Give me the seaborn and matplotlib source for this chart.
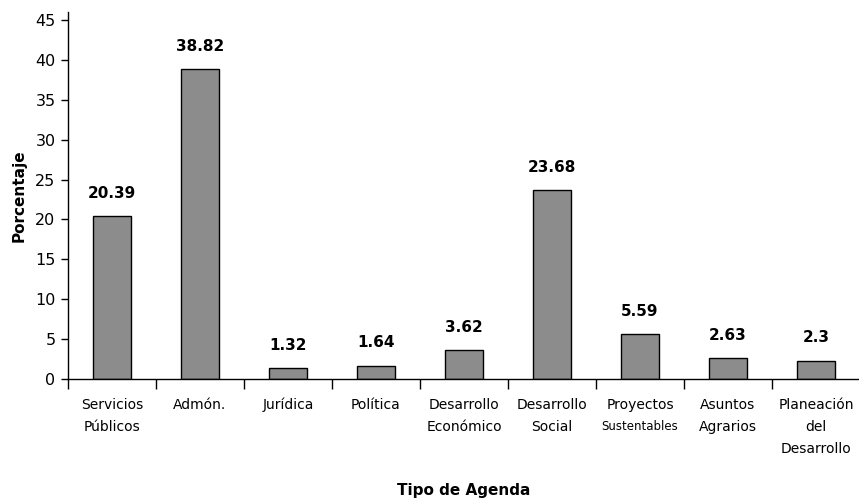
import matplotlib
matplotlib.use("Agg")
import matplotlib.pyplot as plt
import matplotlib.transforms as mtransforms
import seaborn as sns
import pandas as pd
import numpy as np

categorias = ["Servicios Públicos", "Admón.", "Jurídica", "Política",
              "Desarrollo Económico", "Desarrollo Social",
              "Proyectos Sustentables", "Asuntos Agrarios",
              "Planeación del Desarrollo"]
porcentajes = [20.39, 38.82, 1.32, 1.64, 3.62, 23.68, 5.59, 2.63, 2.3]
etiquetas_x = [["Servicios", "Públicos"], ["Admón."], ["Jurídica"], ["Política"],
               ["Desarrollo", "Económico"], ["Desarrollo", "Social"],
               ["Proyectos", "Sustentables"], ["Asuntos", "Agrarios"],
               ["Planeación", "del", "Desarrollo"]]
yticks = [0, 5, 10, 15, 20, 25, 30, 35, 40, 45]

sns.set_theme(style="white")
plt.rcParams["font.family"] = ["DejaVu Sans"]
plt.rcParams["text.color"] = "black"
plt.rcParams["axes.labelcolor"] = "black"
plt.rcParams["xtick.color"] = "black"
plt.rcParams["ytick.color"] = "black"

df = pd.DataFrame({"Tipo de Agenda": categorias, "Porcentaje": porcentajes})

fig = plt.figure(figsize=(8.59, 5.0), dpi=100)
ax = fig.add_axes([68 / 859, 121 / 500, 792 / 859, 367 / 500])

sns.barplot(data=df, x="Tipo de Agenda", y="Porcentaje", order=categorias,
            color="#8c8c8c", saturation=1, width=0.44,
            edgecolor="black", linewidth=1.0, ax=ax)

ax.set_xlim(-0.5, len(categorias) - 0.5)
ax.set_ylim(0, 46)
ax.set_yticks(yticks)
ax.set_yticklabels([str(v) for v in yticks], fontsize=11.5, color="black")

for s in ["top", "right"]:
    ax.spines[s].set_visible(False)
for s in ["left", "bottom"]:
    ax.spines[s].set_color("black")
    ax.spines[s].set_linewidth(1.0)

# tick marks sit on the category boundaries; names are written below each bar
ax.set_xticks(np.arange(-0.5, len(categorias) - 0.5, 1.0))
ax.set_xticklabels([])
ax.tick_params(axis="x", which="major", direction="out", length=7, width=1,
               color="black", bottom=True)
ax.tick_params(axis="y", which="major", direction="out", length=5, width=1,
               color="black", left=True, pad=4)

trans = mtransforms.blended_transform_factory(ax.transData, ax.transAxes)
for i, lineas in enumerate(etiquetas_x):
    for j, linea in enumerate(lineas):
        size = 8.5 if linea == "Sustentables" else 10
        ax.annotate(linea, xy=(i, 0), xycoords=trans,
                    xytext=(0, -26 - 22 * j), textcoords="offset pixels",
                    ha="center", va="center", fontsize=size, color="black")

for i, v in enumerate(porcentajes):
    ax.annotate(f"{v:g}", xy=(i, v), xytext=(0, 23), textcoords="offset pixels",
                ha="center", va="center", fontsize=11, fontweight="bold",
                color="black")

ax.set_xlabel("")
ax.set_ylabel("Porcentaje", fontsize=11, fontweight="bold", labelpad=6,
              color="black")
fig.text(464 / 859, 1 - 490 / 500, "Tipo de Agenda", ha="center", va="center",
         fontsize=11, fontweight="bold", color="black")

fig.savefig("out.png", dpi=100)
